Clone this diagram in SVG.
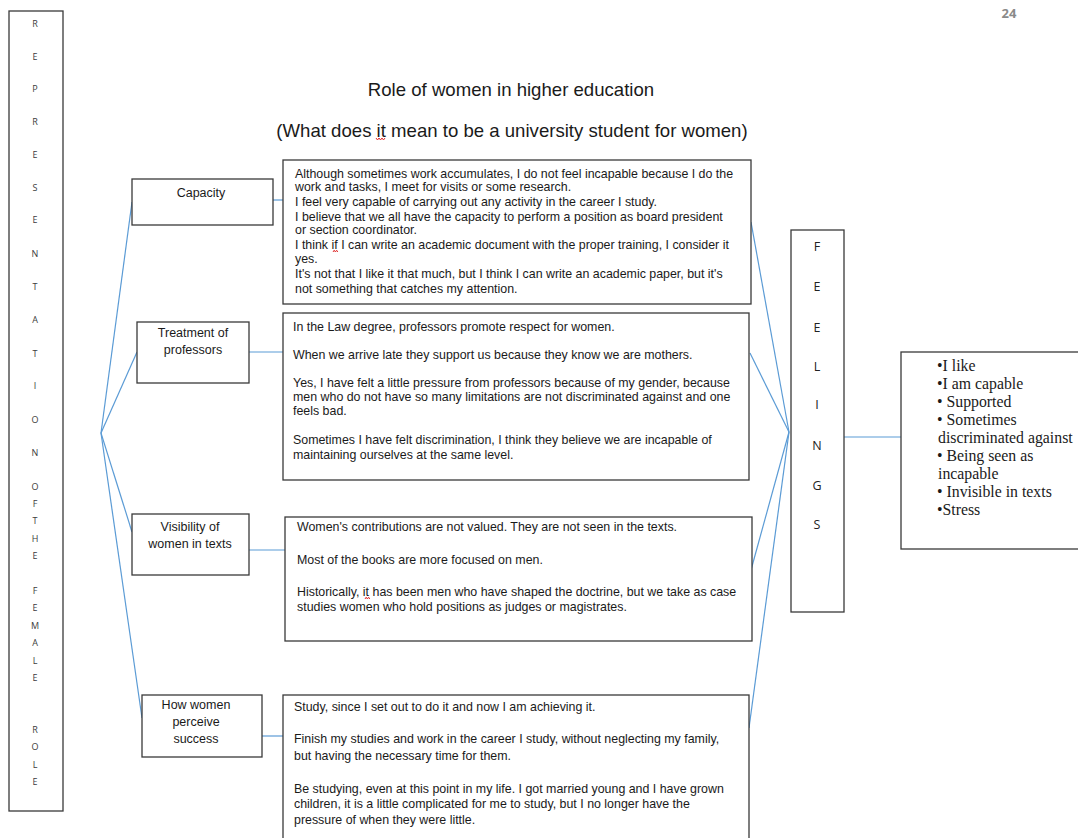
<svg xmlns="http://www.w3.org/2000/svg" width="1078" height="838" viewBox="0 0 1078 838">
<style>
.box{fill:#fff;stroke:#3a3a3a;stroke-width:1.3}
.con{stroke:#5b9bd5;stroke-width:1.2;fill:none}
.t{font-family:"Liberation Sans",Arial,sans-serif;font-size:12.4px;fill:#1a1a1a}
.lbl{font-family:"Liberation Sans",Arial,sans-serif;font-size:12.5px;fill:#1a1a1a;text-anchor:middle}
.vl{font-family:"Open Sans","Liberation Sans",sans-serif;font-size:9px;fill:#3c3c3c;text-anchor:middle}
.fl{font-family:"Open Sans","Liberation Sans",sans-serif;font-size:12.5px;fill:#222;text-anchor:middle}
.title{font-family:"Liberation Sans",Arial,sans-serif;font-size:18.6px;fill:#1a1a1a;text-anchor:middle}
.ser{font-family:"Liberation Serif","Times New Roman",serif;font-size:15.8px;fill:#1a1a1a}
.sq{stroke:#e03030;stroke-width:1;fill:none}
</style>
<rect width="1078" height="838" fill="#fff"/>
<text x="1009" y="18" font-family="'Open Sans','Liberation Sans',sans-serif" font-size="13" font-weight="bold" fill="#8a8a8a" text-anchor="middle">24</text>
<g id="title">
<text class="title" x="511" y="96">Role of women in higher education</text>
<text class="title" x="512" y="137">(What does it mean to be a university student for women)</text>
<path class="sq" d="M376 138 l1.5 2 l1.5 -2 l1.5 2 l1.5 -2 l1.5 2 l1.5 -2"/>
</g>
<g id="connectors">
<line class="con" x1="101" y1="433" x2="132" y2="202"/>
<line class="con" x1="101" y1="433" x2="137" y2="352"/>
<line class="con" x1="101" y1="433" x2="132" y2="532"/>
<line class="con" x1="101" y1="433" x2="142" y2="718"/>
<line class="con" x1="273" y1="200" x2="283" y2="200"/>
<line class="con" x1="249" y1="352" x2="283" y2="352"/>
<line class="con" x1="249" y1="550" x2="285" y2="550"/>
<line class="con" x1="262" y1="736" x2="283" y2="736"/>
<line class="con" x1="751" y1="222" x2="789" y2="432"/>
<line class="con" x1="750" y1="353" x2="789" y2="432"/>
<line class="con" x1="751" y1="570" x2="789" y2="432"/>
<line class="con" x1="749" y1="728" x2="789" y2="432"/>
<line class="con" x1="843" y1="437" x2="901" y2="437"/>
</g>
<g id="representation">
<rect class="box" x="9" y="11" width="54" height="800"/>
<text class="vl" x="35" y="27">R</text>
<text class="vl" x="35" y="60">E</text>
<text class="vl" x="35" y="92">P</text>
<text class="vl" x="35" y="125">R</text>
<text class="vl" x="35" y="158">E</text>
<text class="vl" x="35" y="191">S</text>
<text class="vl" x="35" y="223">E</text>
<text class="vl" x="35" y="257">N</text>
<text class="vl" x="35" y="290">T</text>
<text class="vl" x="35" y="323">A</text>
<text class="vl" x="35" y="357">T</text>
<text class="vl" x="35" y="389">I</text>
<text class="vl" x="35" y="423">O</text>
<text class="vl" x="35" y="456">N</text>
<text class="vl" x="35" y="490">O</text>
<text class="vl" x="35" y="507">F</text>
<text class="vl" x="35" y="524">T</text>
<text class="vl" x="35" y="542">H</text>
<text class="vl" x="35" y="559">E</text>
<text class="vl" x="35" y="594">F</text>
<text class="vl" x="35" y="611">E</text>
<text class="vl" x="35" y="629">M</text>
<text class="vl" x="35" y="646">A</text>
<text class="vl" x="35" y="664">L</text>
<text class="vl" x="35" y="681">E</text>
<text class="vl" x="35" y="733">R</text>
<text class="vl" x="35" y="750">O</text>
<text class="vl" x="35" y="768">L</text>
<text class="vl" x="35" y="785">E</text>
</g>
<g id="capacity">
<rect class="box" x="132" y="179" width="141" height="46"/>
<text class="lbl" x="201" y="197">Capacity</text>
</g>
<g id="capacity-text">
<rect class="box" x="283" y="160" width="468" height="144"/>
<text class="t" x="295" y="178">Although sometimes work accumulates, I do not feel incapable because I do the</text>
<text class="t" x="295" y="191">work and tasks, I meet for visits or some research.</text>
<text class="t" x="295" y="206">I feel very capable of carrying out any activity in the career I study.</text>
<text class="t" x="295" y="221">I believe that we all have the capacity to perform a position as board president</text>
<text class="t" x="295" y="234">or section coordinator.</text>
<text class="t" x="295" y="249">I think if I can write an academic document with the proper training, I consider it</text>
<text class="t" x="295" y="263">yes.</text>
<text class="t" x="295" y="278">It's not that I like it that much, but I think I can write an academic paper, but it's</text>
<text class="t" x="295" y="293">not something that catches my attention.</text>
<path class="sq" d="M333 252 l1.2 -1.8 l1.2 1.8 l1.2 -1.8 l1.2 1.8"/>
</g>
<g id="treatment">
<rect class="box" x="137" y="322" width="112" height="61"/>
<text class="lbl" x="193" y="337">Treatment of</text>
<text class="lbl" x="193" y="354">professors</text>
</g>
<g id="treatment-text">
<rect class="box" x="283" y="313" width="466" height="167"/>
<text class="t" x="293" y="331">In the Law degree, professors promote respect for women.</text>
<text class="t" x="293" y="359">When we arrive late they support us because they know we are mothers.</text>
<text class="t" x="293" y="387">Yes, I have felt a little pressure from professors because of my gender, because</text>
<text class="t" x="293" y="401">men who do not have so many limitations are not discriminated against and one</text>
<text class="t" x="293" y="415">feels bad.</text>
<text class="t" x="293" y="444">Sometimes I have felt discrimination, I think they believe we are incapable of</text>
<text class="t" x="293" y="459">maintaining ourselves at the same level.</text>
</g>
<g id="visibility">
<rect class="box" x="132" y="514" width="117" height="61"/>
<text class="lbl" x="190" y="531">Visibility of</text>
<text class="lbl" x="190" y="548">women in texts</text>
</g>
<g id="visibility-text">
<rect class="box" x="285" y="517" width="467" height="124"/>
<text class="t" x="297" y="531">Women's contributions are not valued. They are not seen in the texts.</text>
<text class="t" x="297" y="564">Most of the books are more focused on men.</text>
<text class="t" x="297" y="596">Historically, it has been men who have shaped the doctrine, but we take as case</text>
<text class="t" x="297" y="611">studies women who hold positions as judges or magistrates.</text>
<path class="sq" d="M365 599 l1.2 -1.8 l1.2 1.8 l1.2 -1.8 l1.2 1.8"/>
</g>
<g id="success">
<rect class="box" x="142" y="695" width="120" height="62"/>
<text class="lbl" x="196" y="709">How women</text>
<text class="lbl" x="196" y="726">perceive</text>
<text class="lbl" x="196" y="743">success</text>
</g>
<g id="success-text">
<rect class="box" x="283" y="695" width="466" height="150"/>
<text class="t" x="294" y="711">Study, since I set out to do it and now I am achieving it.</text>
<text class="t" x="294" y="743">Finish my studies and work in the career I study, without neglecting my family,</text>
<text class="t" x="294" y="760">but having the necessary time for them.</text>
<text class="t" x="294" y="793">Be studying, even at this point in my life. I got married young and I have grown</text>
<text class="t" x="294" y="808">children, it is a little complicated for me to study, but I no longer have the</text>
<text class="t" x="294" y="824">pressure of when they were little.</text>
</g>
<g id="feelings">
<rect class="box" x="791" y="230" width="53" height="382"/>
<text class="fl" x="817" y="251">F</text>
<text class="fl" x="817" y="291">E</text>
<text class="fl" x="817" y="332">E</text>
<text class="fl" x="817" y="371">L</text>
<text class="fl" x="817" y="409">I</text>
<text class="fl" x="817" y="450">N</text>
<text class="fl" x="817" y="490">G</text>
<text class="fl" x="817" y="529">S</text>
</g>
<g id="feelings-list">
<rect class="box" x="901" y="352" width="190" height="197"/>
<text class="ser" x="937" y="371">•I like</text>
<text class="ser" x="937" y="389">•I am capable</text>
<text class="ser" x="937" y="407">• Supported</text>
<text class="ser" x="937" y="425">• Sometimes</text>
<text class="ser" x="938" y="443">discriminated against</text>
<text class="ser" x="937" y="461">• Being seen as</text>
<text class="ser" x="938" y="479">incapable</text>
<text class="ser" x="937" y="497">• Invisible in texts</text>
<text class="ser" x="937" y="515">•Stress</text>
</g>
</svg>
